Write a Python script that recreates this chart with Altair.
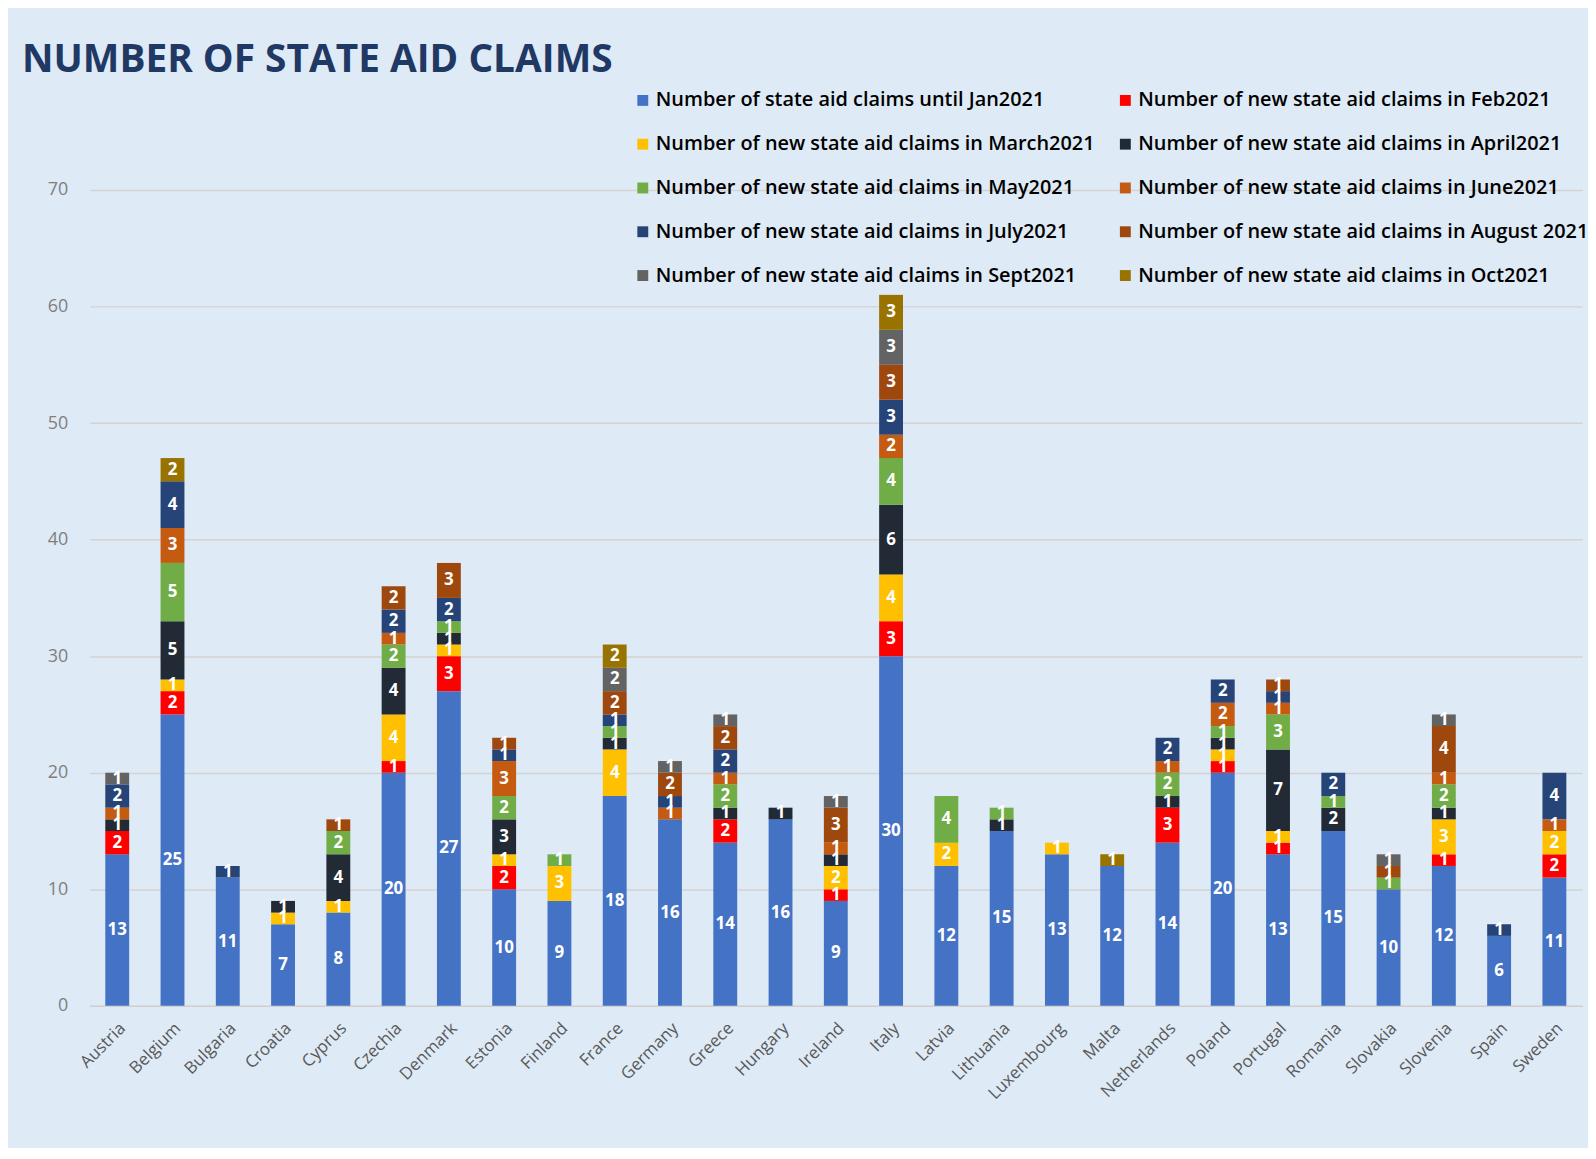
import altair as alt
import pandas as pd

countries = ["Austria", "Belgium", "Bulgaria", "Croatia", "Cyprus", "Czechia", "Denmark",
             "Estonia", "Finland", "France", "Germany", "Greece", "Hungary", "Ireland",
             "Italy", "Latvia", "Lithuania", "Luxembourg", "Malta", "Netherlands", "Poland",
             "Portugal", "Romania", "Slovakia", "Slovenia", "Spain", "Sweden"]

series_names = [
    "Number of state aid claims until Jan2021",
    "Number of new state aid claims in Feb2021",
    "Number of new state aid claims in March2021",
    "Number of new state aid claims in April2021",
    "Number of new state aid claims in May2021",
    "Number of new state aid claims in June2021",
    "Number of new state aid claims in July2021",
    "Number of new state aid claims in August 2021",
    "Number of new state aid claims in Sept2021",
    "Number of new state aid claims in Oct2021",
]
series_colors = ["#4472C4", "#FF0000", "#FFC000", "#222A35", "#70AD47",
                 "#C55A11", "#264478", "#9E480E", "#636363", "#997300"]

jan = [13, 25, 11, 7, 8, 20, 27, 10, 9, 18, 16, 14, 16, 9, 30, 12, 15, 13, 12, 14, 20, 13, 15, 10, 12, 6, 11]
feb = [2, 2, 0, 0, 0, 1, 3, 2, 0, 0, 0, 2, 0, 1, 3, 0, 0, 0, 0, 3, 1, 1, 0, 0, 1, 0, 2]
mar = [0, 1, 0, 1, 1, 4, 1, 1, 3, 4, 0, 0, 0, 2, 4, 2, 0, 1, 0, 0, 1, 1, 0, 0, 3, 0, 2]
apr = [1, 5, 0, 1, 4, 4, 1, 3, 0, 1, 0, 1, 1, 1, 6, 0, 1, 0, 0, 1, 1, 7, 2, 0, 1, 0, 0]
may = [0, 5, 0, 0, 2, 2, 1, 2, 1, 1, 0, 2, 0, 0, 4, 4, 1, 0, 0, 2, 1, 3, 1, 1, 2, 0, 0]
jun = [1, 3, 0, 0, 0, 1, 0, 3, 0, 0, 1, 1, 0, 1, 2, 0, 0, 0, 0, 1, 2, 1, 0, 0, 1, 0, 1]
jul = [2, 4, 1, 0, 0, 2, 2, 1, 0, 1, 1, 2, 0, 0, 3, 0, 0, 0, 0, 2, 2, 1, 2, 0, 0, 1, 4]
aug = [0, 0, 0, 0, 1, 2, 3, 1, 0, 2, 2, 2, 0, 3, 3, 0, 0, 0, 0, 0, 0, 1, 0, 1, 4, 0, 0]
sep = [1, 0, 0, 0, 0, 0, 0, 0, 0, 2, 1, 1, 0, 1, 3, 0, 0, 0, 0, 0, 0, 0, 0, 1, 1, 0, 0]
octo = [0, 2, 0, 0, 0, 0, 0, 0, 0, 2, 0, 0, 0, 0, 3, 0, 0, 0, 1, 0, 0, 0, 0, 0, 0, 0, 0]

y_ticks = [0, 10, 20, 30, 40, 50, 60, 70]

all_series = [jan, feb, mar, apr, may, jun, jul, aug, sep, octo]
rows = []
for ci, c in enumerate(countries):
    cum = 0
    for si, vals in enumerate(all_series):
        v = vals[ci]
        if v > 0:
            rows.append({"country": c, "series": series_names[si], "order": si,
                         "value": v, "mid": cum + v / 2})
        cum += v
df = pd.DataFrame(rows)

# legend is filled column by column (5 rows), so interleave to read row-wise like the original
legend_idx = [0, 2, 4, 6, 8, 1, 3, 5, 7, 9]
legend_domain = [series_names[i] for i in legend_idx]
legend_range = [series_colors[i] for i in legend_idx]

BG = "#DEEAF6"
FONT = "Open Sans"

x_enc = alt.X("country:N", sort=countries,
              scale=alt.Scale(paddingInner=0, paddingOuter=0),
              axis=alt.Axis(title=None, labelAngle=-45, labelAlign="right", labelBaseline="top",
                            labelFontSize=17, labelColor="#595959", labelFont=FONT,
                            ticks=False, domainColor="#D0CECE", labelPadding=14))

bars = alt.Chart(df).mark_bar(size=24).encode(
    x=x_enc,
    y=alt.Y("value:Q", stack="zero",
            scale=alt.Scale(domain=[0, 70], nice=False),
            axis=alt.Axis(title=None, values=y_ticks, labelFontSize=18, labelColor="#7F7F7F",
                          labelFont=FONT, ticks=False, domain=False, gridColor="#D6D2D2",
                          gridWidth=1.5, labelPadding=22)),
    color=alt.Color("series:N", scale=alt.Scale(domain=legend_domain, range=legend_range),
                    legend=alt.Legend(title=None, orient="none", legendX=546, legendY=-100,
                                      columns=2, symbolType="square", symbolSize=120,
                                      symbolStrokeWidth=0, labelFontSize=20, labelFont=FONT,
                                      labelFontWeight=600,
                                      labelColor="#000000", labelLimit=0, rowPadding=24,
                                      columnPadding=20, padding=0, labelOffset=3)),
    order=alt.Order("order:Q"),
)

labels = alt.Chart(df).mark_text(color="white", fontSize=17, font=FONT, fontWeight="bold",
                                 baseline="middle").encode(
    x=alt.X("country:N", sort=countries),
    y=alt.Y("mid:Q"),
    text=alt.Text("value:Q"),
)

chart = alt.layer(bars, labels).properties(
    width=1500, height=820,
    background=BG,
    autosize=alt.AutoSizeParams(type="none"),
    padding={"left": 82, "top": 180, "right": 6, "bottom": 140},
    title=alt.TitleParams(text="NUMBER OF STATE AID CLAIMS", anchor="start", font=FONT,
                          fontSize=39, fontWeight="bold", color="#1F3864", dx=-68, offset=11,
                          frame="group"),
).configure_view(stroke=None)

chart.save("out.html", embed_options={"renderer": "svg", "actions": False})
